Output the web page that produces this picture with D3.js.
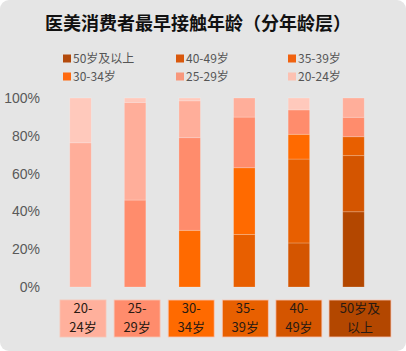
<!DOCTYPE html>
<html>
<head>
<meta charset="utf-8">
<script src="https://cdn.jsdelivr.net/npm/d3@7"></script>
<style>
  body { margin: 0; background: #ffffff; }
  svg { display: block; font-family: "Microsoft YaHei", "Noto Sans CJK SC", sans-serif; }
</style>
</head>
<body>
<div id="chart"></div>
<script>
const groups = ["20-24岁", "25-29岁", "30-34岁", "35-39岁", "40-49岁", "50岁及以上"];
const groupLines = [["20-", "24岁"], ["25-", "29岁"], ["30-", "34岁"], ["35-", "39岁"], ["40-", "49岁"], ["50岁及", "以上"]];

// stacked from bottom (darkest) to top (lightest); values in %
const seriesNames = ["50岁及以上", "40-49岁", "35-39岁", "30-34岁", "25-29岁", "20-24岁", "20岁以下"];
const s50 = [0, 0, 0, 0, 0, 39.8];
const s40 = [0, 0, 0, 0, 23.3, 29.7];
const s35 = [0, 0, 0, 27.8, 44.4, 10.0];
const s30 = [0, 0, 30.0, 35.3, 13.1, 0];
const s25 = [0, 46.0, 49.0, 26.8, 12.9, 10.3];
const s20 = [76.3, 51.7, 19.5, 10.1, 0, 10.2];
const sU20 = [23.7, 2.3, 1.5, 0, 6.3, 0];
const seriesValues = [s50, s40, s35, s30, s25, s20, sU20];

const legendNames = ["50岁及以上", "40-49岁", "35-39岁", "30-34岁", "25-29岁", "20-24岁"];
const yTicks = [0, 20, 40, 60, 80, 100];

const seriesColors = ["#b34700", "#d45500", "#e85f00", "#ff6a00", "#ff8c6c", "#ffae9a", "#ffc9bc"];
const legendColors = ["#b34a0c", "#d9580c", "#f06210", "#ff6a10", "#f8977c", "#fcc1b2"];
const boxColors = ["#ffb09c", "#ff8c6c", "#ff6a00", "#e86000", "#d45500", "#b34700"];

const W = 406, H = 351;

const svg = d3.select("#chart")
    .append("svg")
    .attr("width", W)
    .attr("height", H);

svg.append("rect")
    .attr("x", 0).attr("y", 0)
    .attr("width", W).attr("height", H)
    .attr("rx", 9)
    .attr("fill", "#e5e5e5");

svg.append("text")
    .attr("x", 198)
    .attr("y", 30)
    .attr("text-anchor", "middle")
    .style("font-size", "18px")
    .style("font-weight", "bold")
    .attr("fill", "#111")
    .text("医美消费者最早接触年龄（分年龄层）");

// legend
const legendX = [63, 176, 288];
const legend = svg.append("g")
    .selectAll("g")
    .data(legendNames)
    .enter()
    .append("g")
    .attr("transform", (d, i) => `translate(${legendX[i % 3]}, ${i < 3 ? 58.5 : 76.5})`);

legend.append("rect")
    .attr("x", 0).attr("y", -4)
    .attr("width", 8).attr("height", 8)
    .attr("fill", (d, i) => legendColors[i]);

legend.append("text")
    .attr("x", 10)
    .attr("y", 4.5)
    .style("font-size", "12px")
    .attr("fill", "#555")
    .text(d => d);

// scales
const x = d3.scalePoint()
    .domain(groups)
    .range([53.2, 380.8])
    .padding(0.5);

const y = d3.scaleLinear()
    .domain([0, 100])
    .range([287, 98]);

const barW = 21.5;

const stackData = groups.map((g, i) => {
    const row = { group: g };
    seriesNames.forEach((s, k) => { row[s] = seriesValues[k][i]; });
    return row;
});

const stacked = d3.stack().keys(seriesNames)(stackData);

svg.append("g")
    .selectAll("g")
    .data(stacked)
    .enter()
    .append("g")
    .attr("fill", (d, k) => seriesColors[k])
    .selectAll("rect")
    .data(d => d.filter(p => p[1] - p[0] > 0))
    .enter()
    .append("rect")
    .attr("x", d => x(d.data.group) - barW / 2)
    .attr("y", d => y(d[1]))
    .attr("width", barW)
    .attr("height", d => y(d[0]) - y(d[1]))
    .attr("stroke", "#ffffff")
    .attr("stroke-opacity", 0.25)
    .attr("stroke-width", 0.8);

// y axis labels
const yAxis = svg.append("g")
    .attr("transform", "translate(40, 0)")
    .call(d3.axisLeft(y).tickValues(yTicks).tickFormat(d => d + "%").tickSize(0).tickPadding(0));
yAxis.select(".domain").remove();
yAxis.selectAll("text")
    .style("font-size", "14px")
    .style("font-family", "Arial, 'Liberation Sans', sans-serif")
    .attr("fill", "#595959");

// category boxes
const boxOff = [-20.5, -21, -21.5, -22, -23, -24.5];
const boxes = svg.append("g")
    .selectAll("g")
    .data(groups)
    .enter()
    .append("g")
    .attr("transform", d => `translate(${x(d)}, 300)`);

boxes.append("rect")
    .attr("x", (d, i) => boxOff[i])
    .attr("y", 0)
    .attr("width", (d, i) => i === 5 ? 62 : 46)
    .attr("height", 37)
    .attr("fill", (d, i) => boxColors[i])
    .attr("stroke", "#f7c6b6")
    .attr("stroke-width", 0.8);

boxes.each(function (d, i) {
    const cx = boxOff[i] + (i === 5 ? 31 : 23);
    groupLines[i].forEach((line, j) => {
        d3.select(this).append("text")
            .attr("text-anchor", "middle")
            .attr("x", cx)
            .attr("y", 13 + j * 19)
            .style("font-size", "13px")
            .attr("fill", "#2a1a12")
            .text(line);
    });
});
</script>
</body>
</html>
